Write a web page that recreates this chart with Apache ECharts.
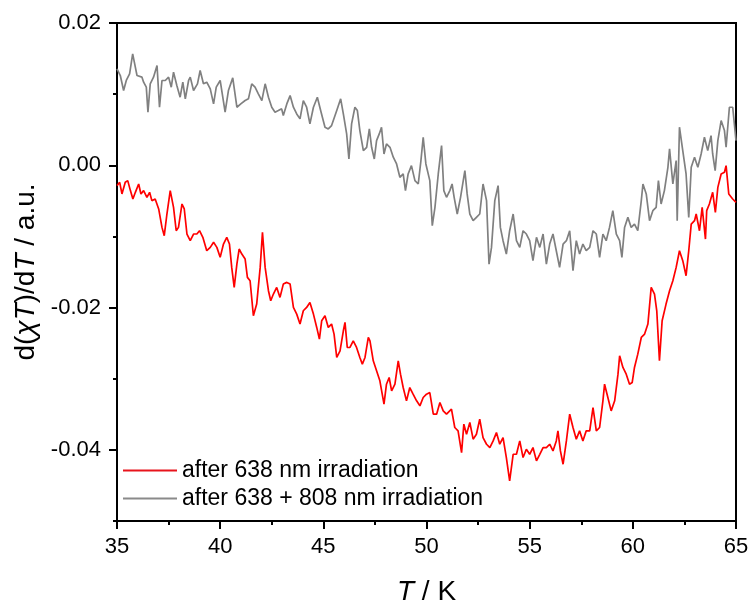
<!DOCTYPE html>
<html>
<head>
<meta charset="utf-8">
<script src="https://cdn.jsdelivr.net/npm/echarts@6/dist/echarts.min.js"></script>
<style>html,body{margin:0;padding:0;background:#fff}#c{width:752px;height:604px}</style>
</head>
<body>
<div id="c"></div>
<script>
var seriesNames = ['after 638 nm irradiation', 'after 638 + 808 nm irradiation'];
var xTicks = [35, 40, 45, 50, 55, 60, 65];
var yMajorTicks = [-0.04, -0.02, 0.00, 0.02];
var yMinorTicks = [-0.05, -0.03, -0.01, 0.01];

var grayT = [35.00,35.16,35.32,35.45,35.61,35.76,35.84,35.97,36.21,36.29,36.42,36.50,36.61,36.77,36.94,37.06,37.18,37.34,37.50,37.63,37.74,37.90,38.06,38.19,38.31,38.47,38.55,38.71,38.90,39.03,39.19,39.35,39.52,39.68,39.81,40.00,40.24,40.40,40.61,40.81,41.00,41.21,41.37,41.53,41.69,41.85,42.02,42.18,42.34,42.50,42.66,42.82,42.98,43.06,43.23,43.39,43.55,43.71,43.87,44.03,44.19,44.35,44.52,44.71,44.87,45.08,45.24,45.40,45.65,45.84,45.97,46.13,46.24,46.37,46.53,46.65,46.77,46.94,47.10,47.23,47.34,47.47,47.58,47.71,47.82,47.94,48.06,48.23,48.39,48.55,48.71,48.87,48.98,49.11,49.27,49.44,49.60,49.73,49.84,49.97,
50.16,50.28,50.41,50.57,50.73,50.84,50.97,51.13,51.24,51.34,51.49,51.65,51.86,51.97,52.10,52.26,52.42,52.58,52.74,52.91,53.03,53.15,53.31,53.47,53.58,53.71,53.87,54.03,54.20,54.36,54.52,54.68,54.84,55.00,55.16,55.33,55.49,55.65,55.81,55.97,56.13,56.29,56.45,56.62,56.78,56.94,57.10,57.26,57.42,57.58,57.74,57.91,58.07,58.23,58.39,58.55,58.71,58.87,59.03,59.20,59.36,59.47,59.60,59.76,59.92,60.08,60.24,60.41,60.49,60.65,60.81,60.97,61.13,61.24,61.37,61.53,61.70,61.78,61.94,62.10,62.15,62.26,62.42,62.58,62.71,62.83,62.99,63.15,63.31,63.47,63.63,63.79,63.87,63.99,64.12,64.28,64.44,64.52,64.68,64.84,65.00];
var grayV = [0.01356,0.01262,0.01051,0.01192,0.01286,0.01567,0.01450,0.01262,0.01239,0.01168,0.01098,0.00746,0.01145,0.01239,0.01403,0.00816,0.01192,0.01192,0.01239,0.01098,0.01309,0.01121,0.00957,0.01168,0.00934,0.01192,0.01239,0.01051,0.01145,0.01332,0.01145,0.01168,0.01074,0.00863,0.01098,0.01192,0.00746,0.01051,0.01229,0.00816,0.00863,0.00910,0.00934,0.01145,0.01098,0.01004,0.00910,0.01145,0.00957,0.00816,0.00746,0.00769,0.00793,0.00699,0.00863,0.00980,0.00816,0.00722,0.00652,0.00910,0.00816,0.00582,0.00816,0.00957,0.00769,0.00535,0.00511,0.00558,0.00769,0.00934,0.00722,0.00441,0.00089,0.00582,0.00816,0.00769,0.00488,0.00206,0.00253,0.00511,0.00253,0.00089,0.00347,0.00441,0.00535,0.00159,0.00300,0.00253,0.00113,0.00019,-0.00169,-0.00122,-0.00356,-0.00122,-0.00005,-0.00216,-0.00263,0.00066,0.00394,0.00019,
-0.00216,-0.00849,-0.00591,-0.00122,0.00277,-0.00356,-0.00450,-0.00356,-0.00263,-0.00450,-0.00685,-0.00450,-0.00075,-0.00403,-0.00685,-0.00779,-0.00732,-0.00685,-0.00263,-0.00497,-0.01389,-0.01154,-0.00497,-0.00286,-0.00873,-0.01060,-0.01248,-0.00920,-0.00685,-0.01060,-0.01154,-0.00920,-0.00966,-0.01060,-0.01341,-0.01013,-0.01154,-0.00966,-0.01389,-0.01107,-0.00966,-0.01201,-0.01435,-0.01107,-0.01060,-0.00920,-0.01482,-0.01060,-0.01248,-0.01107,-0.01201,-0.01154,-0.00920,-0.00966,-0.01294,-0.00966,-0.01060,-0.00873,-0.00638,-0.00966,-0.01060,-0.01294,-0.00873,-0.00732,-0.00873,-0.00826,-0.00920,-0.00497,-0.00263,-0.00403,-0.00779,-0.00638,-0.00591,-0.00216,-0.00544,-0.00356,-0.00028,0.00230,-0.00263,0.00066,-0.00779,0.00535,0.00206,-0.00122,-0.00732,-0.00028,0.00113,-0.00028,0.00159,0.00394,0.00206,0.00417,0.00159,-0.00075,0.00347,0.00629,0.00488,0.00253,0.00816,0.00816,0.00347];

var redT = [35.00,35.13,35.24,35.40,35.52,35.65,35.77,35.89,36.05,36.16,36.29,36.45,36.58,36.69,36.85,37.02,37.18,37.29,37.42,37.58,37.74,37.87,37.98,38.15,38.26,38.39,38.55,38.71,38.87,39.00,39.16,39.35,39.52,39.68,39.84,40.00,40.16,40.32,40.45,40.56,40.68,40.81,40.92,41.05,41.21,41.32,41.45,41.61,
41.77,41.94,42.05,42.18,42.34,42.45,42.58,42.74,42.90,43.06,43.23,43.39,43.55,43.71,43.87,44.03,44.19,44.35,44.52,44.68,44.81,44.92,45.08,45.24,45.40,45.52,45.65,45.81,45.97,46.05,46.16,46.29,46.45,46.61,46.77,46.89,47.02,47.18,47.26,47.42,47.58,47.74,47.94,48.06,48.19,48.31,48.47,48.63,48.74,48.87,49.03,49.19,49.35,49.52,49.68,49.84,50.00,50.16,
50.33,50.49,50.65,50.81,50.97,51.21,51.37,51.53,51.70,51.81,51.94,52.10,52.26,52.42,52.58,52.74,52.91,53.07,53.23,53.39,53.55,53.71,53.87,54.03,54.20,54.36,54.52,54.68,54.84,55.00,55.16,55.33,55.49,55.65,55.81,55.97,56.13,56.29,56.37,56.49,56.62,56.78,56.94,57.10,57.26,57.42,57.58,57.74,57.91,58.07,58.23,58.39,58.55,58.63,58.79,58.95,59.12,59.28,59.36,59.52,59.68,59.84,59.97,60.08,60.24,60.41,60.57,60.73,60.89,61.05,61.16,61.29,61.42,61.61,61.78,61.94,62.10,62.26,62.42,62.58,62.71,62.83,62.99,63.07,63.23,63.36,63.52,63.58,63.71,63.87,64.00,64.12,64.28,64.44,64.52,64.65,64.84,65.00];
var redV = [-0.00286,-0.00239,-0.00403,-0.00239,-0.00216,-0.00356,-0.00474,-0.00380,-0.00263,-0.00403,-0.00356,-0.00450,-0.00380,-0.00497,-0.00474,-0.00614,-0.00873,-0.00990,-0.00685,-0.00356,-0.00591,-0.00920,-0.00873,-0.00544,-0.00614,-0.00966,-0.01060,-0.00966,-0.00966,-0.00920,-0.01013,-0.01201,-0.01154,-0.01083,-0.01154,-0.01294,-0.01107,-0.01013,-0.01107,-0.01435,-0.01717,-0.01389,-0.01177,-0.01248,-0.01318,-0.01576,-0.01623,-0.02115,
-0.01951,-0.01435,-0.00943,-0.01435,-0.01763,-0.01904,-0.01810,-0.01717,-0.01857,-0.01670,-0.01646,-0.01670,-0.01998,-0.02092,-0.02232,-0.02045,-0.01998,-0.01928,-0.02092,-0.02279,-0.02443,-0.02186,-0.02115,-0.02279,-0.02232,-0.02373,-0.02701,-0.02608,-0.02326,-0.02209,-0.02561,-0.02561,-0.02467,-0.02561,-0.02701,-0.02795,-0.02701,-0.02420,-0.02467,-0.02748,-0.02889,-0.03030,-0.03358,-0.03077,-0.02983,-0.03170,-0.03077,-0.02748,-0.02936,-0.03124,-0.03311,-0.03124,-0.03217,-0.03311,-0.03381,-0.03264,-0.03217,-0.03194,
-0.03499,-0.03499,-0.03335,-0.03452,-0.03499,-0.03428,-0.03686,-0.03733,-0.04038,-0.03639,-0.03780,-0.03616,-0.03850,-0.03780,-0.03569,-0.03827,-0.03921,-0.03968,-0.03874,-0.03757,-0.03921,-0.03827,-0.04108,-0.04437,-0.04062,-0.04062,-0.03874,-0.04108,-0.03991,-0.04062,-0.03968,-0.04155,-0.04062,-0.03968,-0.03968,-0.03921,-0.04015,-0.03874,-0.03733,-0.04015,-0.04202,-0.03874,-0.03499,-0.03686,-0.03850,-0.03733,-0.03874,-0.03733,-0.03733,-0.03405,-0.03733,-0.03686,-0.03311,-0.03077,-0.03264,-0.03452,-0.03311,-0.02936,-0.02678,-0.02842,-0.02936,-0.03077,-0.03053,-0.02842,-0.02655,-0.02420,-0.02373,-0.02232,-0.01717,-0.01810,-0.02045,-0.02748,-0.02186,-0.01951,-0.01763,-0.01623,-0.01435,-0.01201,-0.01341,-0.01552,-0.01201,-0.00826,-0.00779,-0.00685,-0.00920,-0.00591,-0.01037,-0.00638,-0.00544,-0.00380,-0.00661,-0.00310,-0.00122,-0.00098,-0.00005,-0.00403,-0.00474,-0.00521];

function pairs(t, v) {
  var out = [];
  var n = Math.min(t.length, v.length);
  for (var i = 0; i < n; i++) out.push([t[i], v[i]]);
  return out;
}

var FONT = '"Liberation Sans", Arial, sans-serif';
var chart = echarts.init(document.getElementById('c'), null, {renderer: 'canvas'});
chart.setOption({
  animation: false,
  backgroundColor: '#fff',
  grid: {left: 117, right: 16, top: 23, bottom: 83, outerBoundsMode: 'none', containLabel: false,
    show: true, borderColor: '#000', borderWidth: 2, backgroundColor: 'transparent'},
  legend: {
    orient: 'vertical', left: 123, top: 459, padding: 0, itemGap: 5,
    itemWidth: 54, itemHeight: 2, icon: 'rect',
    textStyle: {fontSize: 23, fontFamily: FONT, color: '#000', lineHeight: 23},
    data: seriesNames
  },
  xAxis: {
    type: 'value', min: xTicks[0], max: xTicks[xTicks.length - 1], interval: 5,
    name: '{i|T} / K', nameLocation: 'middle', nameGap: 57,
    nameTextStyle: {fontSize: 28, fontFamily: FONT, color: '#000', rich: {i: {fontStyle: 'italic', fontSize: 28, fontFamily: FONT}}},
    axisLine: {show: true, onZero: false, lineStyle: {color: '#000', width: 2}},
    axisTick: {show: true, inside: false, length: 8, lineStyle: {color: '#000', width: 2}},
    minorTick: {show: true, splitNumber: 2, length: 4, lineStyle: {color: '#000', width: 2}},
    splitLine: {show: false},
    axisLabel: {fontSize: 22, fontFamily: FONT, color: '#000', margin: 15}
  },
  yAxis: [{
    type: 'value', min: -0.05, max: 0.02, interval: 0.01,
    name: 'd({i|χT})/d{i|T} / a.u.', nameLocation: 'middle', nameGap: 65,
    nameTextStyle: {fontSize: 28, fontFamily: FONT, color: '#000', rich: {i: {fontStyle: 'italic', fontSize: 28, fontFamily: FONT}}},
    axisLine: {show: true, onZero: false, lineStyle: {color: '#000', width: 2}},
    axisTick: {show: true, inside: false, length: 8, lineStyle: {color: '#000', width: 2}, customValues: yMajorTicks},
    splitLine: {show: false},
    axisLabel: {fontSize: 22, fontFamily: FONT, color: '#000', margin: 16, customValues: yMajorTicks,
      formatter: function (v) { return v.toFixed(2); }}
  }, {
    type: 'value', min: -0.05, max: 0.02, interval: 0.01, position: 'left',
    axisLine: {show: false},
    axisTick: {show: true, inside: false, length: 4, lineStyle: {color: '#000', width: 2}, customValues: yMinorTicks},
    axisLabel: {show: false},
    splitLine: {show: false}
  }],
  series: [{
    name: seriesNames[0], type: 'line', showSymbol: false, symbol: 'none',
    data: pairs(redT, redV), z: 3,
    lineStyle: {color: '#ff0000', width: 1.7}, itemStyle: {color: '#e8141c'}
  }, {
    name: seriesNames[1], type: 'line', showSymbol: false, symbol: 'none',
    data: pairs(grayT, grayV), z: 2,
    lineStyle: {color: '#808080', width: 1.7}, itemStyle: {color: '#8a8a8a'}
  }]
});
</script>
</body>
</html>
